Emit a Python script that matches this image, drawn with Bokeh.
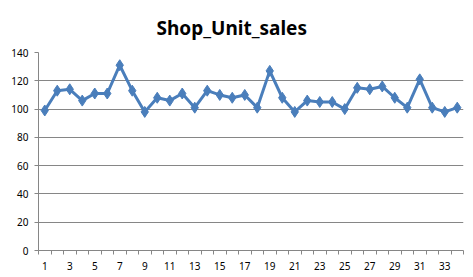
from bokeh.plotting import figure
from bokeh.models import Range1d, FixedTicker
from bokeh.embed import file_html
from bokeh.resources import INLINE

# Unit sales per period
periods = list(range(1, 35))
unit_sales = [99, 113, 114, 106, 111, 111, 131, 113, 98, 108,
              106, 111, 101, 113, 110, 108, 110, 101, 127, 108,
              98, 106, 105, 105, 100, 115, 114, 116, 108, 101,
              121, 101, 98, 101]
x_labels = list(range(1, 35, 2))
y_ticks = [0, 20, 40, 60, 80, 100, 120, 140]

LINE = "#4a7ebb"
GRID = "#868686"
FONT = "Noto Sans"

p = figure(width=473, height=277, output_backend="svg", toolbar_location=None,
           x_range=Range1d(0.5, 34.5), y_range=Range1d(0, 140),
           min_border_left=38, min_border_right=10, min_border_top=52,
           min_border_bottom=27)

p.title.text = "Shop_Unit_sales"
p.title.align = "left"
p.title.offset = 118
p.title.standoff = 24
p.title.text_font = FONT
p.title.text_font_size = "19px"
p.title.text_font_style = "bold"
p.title.text_color = "#000000"

p.outline_line_color = None
p.background_fill_color = "white"
p.border_fill_color = "white"

# x axis: labels on odd periods, tick marks between categories
p.xaxis.ticker = FixedTicker(ticks=x_labels,
                             minor_ticks=[i + 0.5 for i in range(0, 35)])
p.xaxis.major_tick_out = 0
p.xaxis.major_tick_in = 0
p.xaxis.minor_tick_out = 4
p.xaxis.minor_tick_in = 0
p.xaxis.minor_tick_line_color = GRID
p.xaxis.axis_line_color = GRID
p.xaxis.major_label_standoff = 7
p.xaxis.major_label_text_font = FONT
p.xaxis.major_label_text_font_size = "10px"
p.xaxis.major_label_text_color = "#000000"

p.yaxis.ticker = FixedTicker(ticks=y_ticks)
p.yaxis.major_tick_out = 4
p.yaxis.major_tick_in = 0
p.yaxis.minor_tick_line_color = None
p.yaxis.major_tick_line_color = GRID
p.yaxis.axis_line_color = GRID
p.yaxis.major_label_standoff = 6
p.yaxis.major_label_text_font = FONT
p.yaxis.major_label_text_font_size = "10px"
p.yaxis.major_label_text_color = "#000000"

p.xgrid.grid_line_color = None
p.ygrid.grid_line_color = GRID
p.ygrid.grid_line_width = 1

p.line(periods, unit_sales, line_color=LINE, line_width=3)
p.scatter(periods, unit_sales, marker="diamond", size=11,
          fill_color=LINE, line_color=LINE)

open("out.html", "w").write(file_html(p, INLINE))
